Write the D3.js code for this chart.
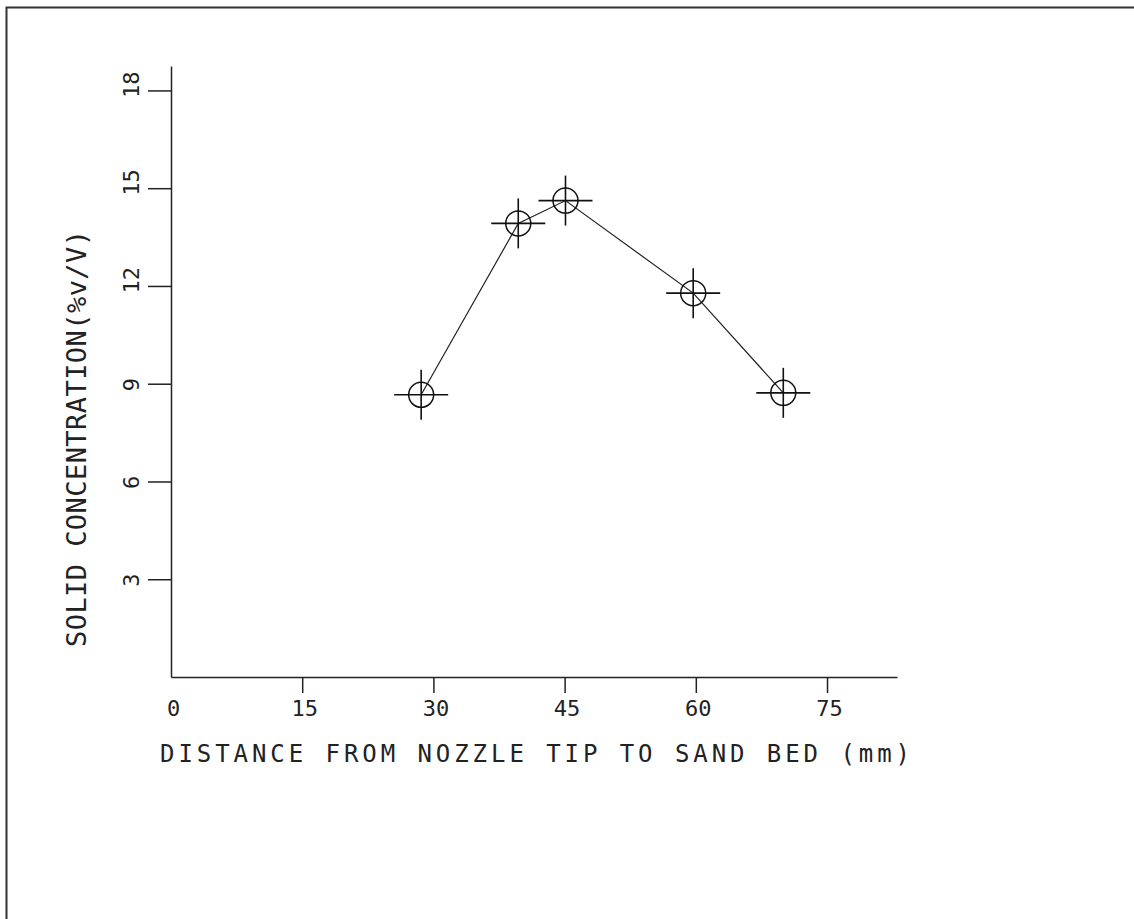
<!DOCTYPE html>
<html>
<head>
<meta charset="utf-8">
<script src="https://cdn.jsdelivr.net/npm/d3@7"></script>
<style>
  html, body { margin: 0; padding: 0; background: #fff; overflow: hidden; }
  text { font-family: "DejaVu Sans Mono", "Liberation Mono", monospace; fill: #222; }
</style>
</head>
<body>
<div id="chart"></div>
<script>
// Data
const distance = [28.6, 39.7, 45.1, 59.7, 70.0];        // mm
const concentration = [8.66, 13.92, 14.62, 11.78, 8.72]; // % v/V

const xTicks = [0, 15, 30, 45, 60, 75];
const yTicks = [3, 6, 9, 12, 15, 18];

const xTitle = "DISTANCE FROM NOZZLE TIP TO SAND BED (mm)";
const yTitle = "SOLID CONCENTRATION(%v/V)";

const width = 1134;
const height = 919;
const margin = { top: 66, right: 237, bottom: 242, left: 171 };

const svg = d3.select("#chart")
    .append("svg")
    .attr("width", width)
    .attr("height", height);

// outer frame: only the top and left edges are inside the page
svg.append("path")
    .attr("d", `M6.5,${height}V7.5H${width}`)
    .attr("fill", "none")
    .attr("stroke", "#333")
    .attr("stroke-width", 2);

const xScale = d3.scaleLinear()
    .domain([0, 83])
    .range([margin.left, width - margin.right]);

const yScale = d3.scaleLinear()
    .domain([0, 18.75])
    .range([height - margin.bottom, margin.top]);

// x axis
const gx = svg.append("g")
    .attr("transform", `translate(0,${yScale(0)})`)
    .call(d3.axisBottom(xScale).tickValues(xTicks).tickSize(16).tickSizeOuter(0));

gx.select(".domain").attr("stroke", "#222").attr("stroke-width", 1.5);
gx.selectAll(".tick line").attr("stroke", "#222").attr("stroke-width", 1.5)
    .filter(d => d === 0).remove();
gx.selectAll(".tick text")
    .attr("font-size", 22)
    .attr("dx", 2)
    .attr("y", 23)
    .attr("dy", "0.71em");

// y axis
const gy = svg.append("g")
    .attr("transform", `translate(${xScale(0)},0)`)
    .call(d3.axisLeft(yScale).tickValues(yTicks).tickSize(23).tickSizeOuter(0));

gy.select(".domain").attr("stroke", "#222").attr("stroke-width", 1.5);
gy.selectAll(".tick line").attr("stroke", "#222").attr("stroke-width", 1.5);
gy.selectAll(".tick text")
    .attr("font-size", 22)
    .attr("x", null)
    .attr("dy", null)
    .attr("text-anchor", "start")
    .attr("transform", "translate(-32,7) rotate(-90)");

// axis titles
svg.append("text")
    .attr("x", 160)
    .attr("y", 762)
    .attr("font-size", 24)
    .attr("textLength", 750)
    .attr("lengthAdjust", "spacing")
    .text(xTitle);

svg.append("text")
    .attr("transform", "translate(86,647) rotate(-90)")
    .attr("font-size", 27)
    .attr("textLength", 417)
    .attr("lengthAdjust", "spacing")
    .text(yTitle);

// line
const points = distance.map((d, i) => ({ x: d, y: concentration[i] }));

const line = d3.line()
    .x(d => xScale(d.x))
    .y(d => yScale(d.y));

svg.append("path")
    .datum(points)
    .attr("fill", "none")
    .attr("stroke", "#222")
    .attr("stroke-width", 1.2)
    .attr("d", line);

// markers: circle with a cross
const marker = svg.append("g")
    .selectAll("g")
    .data(points)
    .join("g")
    .attr("transform", d => `translate(${xScale(d.x)},${yScale(d.y)})`)
    .attr("stroke", "#111")
    .attr("fill", "none");

marker.append("circle")
    .attr("r", 12.5)
    .attr("stroke-width", 1.5);

marker.append("line")
    .attr("x1", -27).attr("x2", 27)
    .attr("stroke-width", 1.6);

marker.append("line")
    .attr("y1", -25).attr("y2", 25)
    .attr("stroke-width", 1.6);
</script>
</body>
</html>
